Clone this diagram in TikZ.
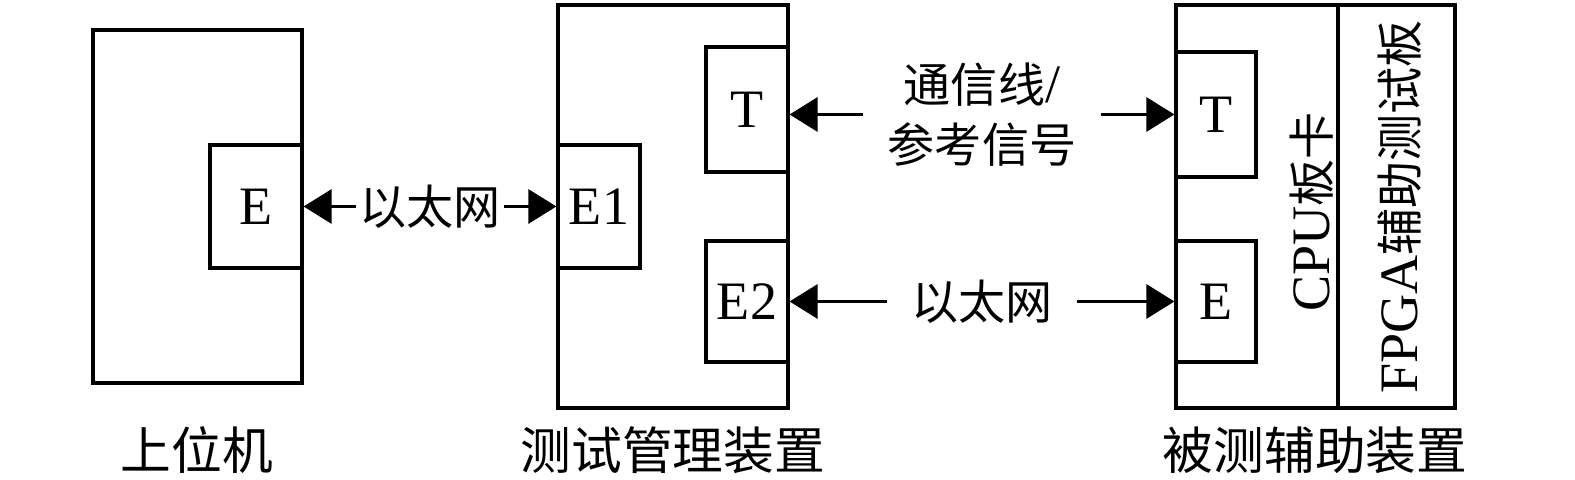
\documentclass[tikz,border=0pt]{standalone}
\usepackage{fontspec}
\setmainfont{Liberation Serif}
\newfontfamily\cjk{Noto Sans CJK SC}[Scale=0.87]
\usetikzlibrary{arrows.meta}

\begin{document}
\begin{tikzpicture}[
        box/.style={draw,line width=0.9pt,inner sep=0pt},
        port/.style={draw,line width=0.9pt,inner sep=0pt,font=\fontsize{15.4}{18}\selectfont},
        link/.style={line width=0.9pt,{Triangle[length=2.8mm,width=3.4mm]}-{Triangle[length=2.8mm,width=3.4mm]}},
        lbl/.style={fill=white,inner sep=2pt,font=\fontsize{15.4}{17}\selectfont},
        caption/.style={font=\fontsize{16.6}{20}\selectfont\cjk}
    ]
            \useasboundingbox (0,0) rectangle (15.75,4.8);

            % host
            \node[box,minimum width=2.09cm,minimum height=3.53cm] (H) at (1.975, 2.735) {};
            \node[port,minimum width=0.92cm,minimum height=1.23cm] (HE) at (2.56, 2.735) {E};
            \node[caption] (HL) at (1.97, 0.30) {上位机};

            % test manager
            \node[box,minimum width=2.30cm,minimum height=4.03cm] (M) at (6.73, 2.735) {};
            \node[port,minimum width=0.82cm,minimum height=1.23cm] (ME1) at (5.99, 2.735) {E1};
            \node[port,minimum width=0.82cm,minimum height=1.25cm] (MT) at (7.47, 3.705) {T};
            \node[port,minimum width=0.82cm,minimum height=1.21cm] (ME2) at (7.47, 1.785) {E2};
            \node[caption] (ML) at (6.73, 0.30) {测试管理装置};

            % device under test
            \node[box,minimum width=2.79cm,minimum height=4.03cm] (D) at (13.155, 2.735) {};
            \node[port,minimum width=0.80cm,minimum height=1.25cm] (DT) at (12.16, 3.655) {T};
            \node[port,minimum width=0.80cm,minimum height=1.21cm] (DE) at (12.16, 1.785) {E};
            \coordinate (S1) at (13.38, 4.75);
            \coordinate (S2) at (13.38, 0.72);
            \draw[line width=0.9pt] (S1) to (S2);
            \node[rotate=90,font=\fontsize{15.4}{18}\selectfont] (CPU) at (13.12, 2.68) {CPU{\cjk 板卡}};
            \node[rotate=90,font=\fontsize{15.4}{18}\selectfont] (FPGA) at (14.00, 2.73) {FPGA{\cjk 辅助测试板}};
            \node[caption] (DL) at (13.15, 0.30) {被测辅助装置};

            \draw[link] (HE) to node[lbl,inner sep=1pt] {\cjk 以太网} (ME1);
            \draw[link] (MT.east |- DT.west) to node[lbl,inner sep=7pt,align=center] {{\cjk 通信线}/\\{\cjk 参考信号}} (DT.west);
            \draw[link] (ME2) to node[lbl,inner sep=7pt] {\cjk 以太网} (DE);
        \end{tikzpicture}
\end{document}
